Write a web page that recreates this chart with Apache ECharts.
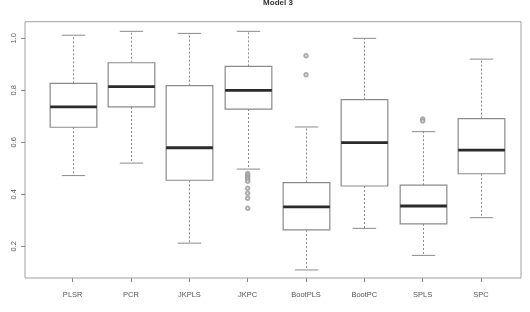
<!DOCTYPE html>
<html>
<head>
<meta charset="utf-8">
<script src="https://cdn.jsdelivr.net/npm/echarts@6/dist/echarts.min.js"></script>
<style>
  html, body { margin: 0; padding: 0; background: #fff; }
  #chart { width: 530px; height: 312px; }
</style>
</head>
<body>
<div id="chart"></div>
<script>
// methods on the x axis
var categories = ["PLSR", "PCR", "JKPLS", "JKPC", "BootPLS", "BootPC", "SPLS", "SPC"];
// five-number summaries: [lower whisker, Q1, median, Q3, upper whisker]
var boxStats = [
  [0.472, 0.658, 0.736, 0.827, 1.012],
  [0.520, 0.736, 0.814, 0.906, 1.027],
  [0.212, 0.454, 0.579, 0.818, 1.019],
  [0.497, 0.728, 0.800, 0.892, 1.027],
  [0.109, 0.263, 0.352, 0.445, 0.659],
  [0.269, 0.432, 0.599, 0.764, 1.000],
  [0.165, 0.286, 0.355, 0.435, 0.641],
  [0.310, 0.479, 0.570, 0.691, 0.920]
];
// outliers: [category index, value]
var outliers = [
  [3, 0.480], [3, 0.472], [3, 0.465], [3, 0.458], [3, 0.450],
  [3, 0.423], [3, 0.404], [3, 0.385], [3, 0.346],
  [4, 0.933], [4, 0.860],
  [6, 0.690], [6, 0.682]
];
var yTicks = [0.2, 0.4, 0.6, 0.8, 1.0];
var yMin = 0.078, yMax = 1.064;

var boxData = boxStats.map(function (s, i) {
  return [i].concat(s);
});

function renderBox(params, api) {
  var x = api.value(0);
  var pMin = api.coord([x, api.value(1)]);
  var pQ1 = api.coord([x, api.value(2)]);
  var pMed = api.coord([x, api.value(3)]);
  var pQ3 = api.coord([x, api.value(4)]);
  var pMax = api.coord([x, api.value(5)]);
  var band = api.size([1, 0])[0];
  var hw = band * 0.4, cw = band * 0.2;
  var cx = Math.round(pMed[0]) + 0.5;
  var dash = { stroke: "#8a8a8a", lineWidth: 1, lineDash: [2, 2] };
  var solid = { stroke: "#8a8a8a", lineWidth: 1 };
  return {
    type: "group",
    children: [
      { type: "line", shape: { x1: cx, y1: pQ3[1], x2: cx, y2: pMax[1] }, style: dash },
      { type: "line", shape: { x1: cx, y1: pQ1[1], x2: cx, y2: pMin[1] }, style: dash },
      { type: "line", shape: { x1: cx - cw, y1: pMax[1], x2: cx + cw, y2: pMax[1] }, style: solid },
      { type: "line", shape: { x1: cx - cw, y1: pMin[1], x2: cx + cw, y2: pMin[1] }, style: solid },
      { type: "rect", shape: { x: cx - hw, y: pQ3[1], width: hw * 2, height: pQ1[1] - pQ3[1] },
        style: { fill: "#fff", stroke: "#8a8a8a", lineWidth: 1.2 } },
      { type: "line", shape: { x1: cx - hw, y1: pMed[1], x2: cx + hw, y2: pMed[1] },
        style: { stroke: "#2a2a2a", lineWidth: 2.8 } }
    ]
  };
}

var chart = echarts.init(document.getElementById("chart"));
chart.setOption({
  animation: false,
  title: {
    text: "Model 3",
    left: 273,
    textAlign: "center",
    top: -6,
    textStyle: { fontSize: 8, fontWeight: "bold", color: "#333", fontFamily: "Liberation Sans" }
  },
  grid: [
    // inner grid holding the boxes (covers categories 0.5..8.5)
    { left: 43.5, right: 19.8, top: 21.7, bottom: 34, show: false },
    // outer frame, as in R plot region
    { left: 25, right: 9, top: 21.7, bottom: 34, show: true, borderColor: "#a0a0a0", borderWidth: 1, backgroundColor: "transparent" }
  ],
  xAxis: [
    {
      gridIndex: 0,
      type: "category",
      data: categories,
      boundaryGap: true,
      axisLine: { show: false },
      axisTick: { show: true, alignWithLabel: true, length: 4, inside: false, lineStyle: { color: "#888" } },
      axisLabel: { color: "#555", fontSize: 7.5, margin: 13, fontFamily: "Liberation Sans", interval: 0 },
      splitLine: { show: false }
    },
    { gridIndex: 1, type: "value", min: 0, max: 1, show: false }
  ],
  yAxis: [
    { gridIndex: 0, type: "value", min: yMin, max: yMax, show: false },
    {
      gridIndex: 1,
      type: "value",
      min: yMin,
      max: yMax,
      axisLine: { show: false },
      axisTick: { show: true, length: 4, customValues: yTicks, lineStyle: { color: "#888" } },
      axisLabel: {
        customValues: yTicks,
        rotate: 90,
        margin: 7,
        color: "#555",
        fontSize: 7.5,
        fontFamily: "Liberation Sans",
        formatter: function (v) { return v.toFixed(1); }
      },
      splitLine: { show: false }
    }
  ],
  series: [
    {
      type: "custom",
      xAxisIndex: 0,
      yAxisIndex: 0,
      renderItem: renderBox,
      encode: { x: 0, y: [1, 2, 3, 4, 5] },
      data: boxData,
      z: 2
    },
    {
      type: "scatter",
      xAxisIndex: 0,
      yAxisIndex: 0,
      symbol: "emptyCircle",
      symbolSize: 3.5,
      itemStyle: { color: "#999", borderWidth: 1 },
      data: outliers,
      z: 3
    }
  ]
});
</script>
</body>
</html>
